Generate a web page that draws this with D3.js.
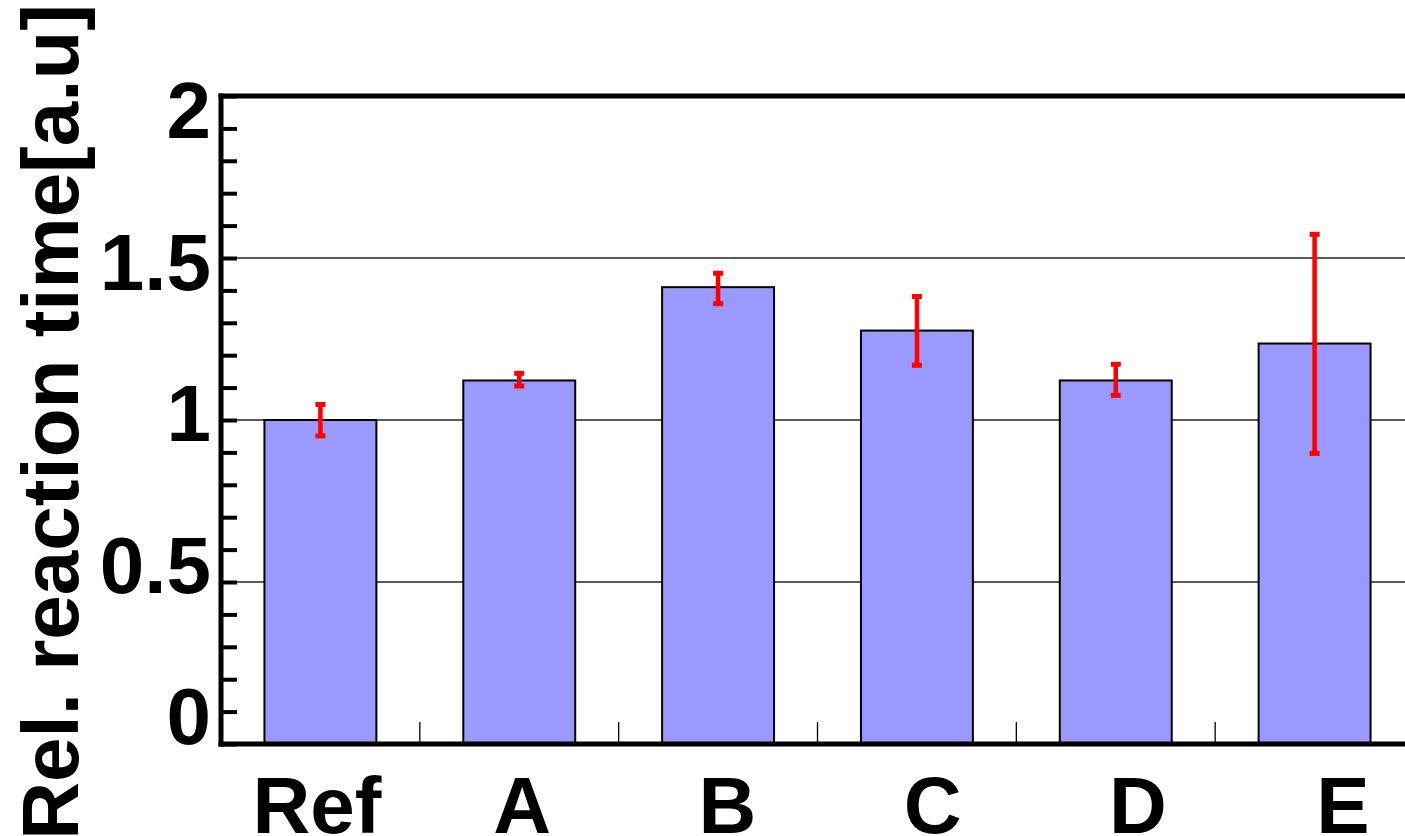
<!DOCTYPE html>
<html>
<head>
<meta charset="utf-8">
<title>Rel. reaction time</title>
<script src="https://d3js.org/d3.v7.min.js"></script>
<style>
  body { margin: 0; background: #fff; }
  text { font-family: "Liberation Sans", Arial, sans-serif; font-weight: bold; fill: #000; }
  .grid { stroke: #222; stroke-width: 1.3; }
  .bar { fill: #9999ff; stroke: #000; stroke-width: 2; }
  .err { stroke: #ff0000; stroke-width: 4.5; }
  .cap { fill: #ff0000; }
</style>
</head>
<body>
<div id="chart"></div>
<script>
// data
var categories = ["Ref", "A", "B", "C", "D", "E"];
var values     = [1.0, 1.122, 1.41, 1.276, 1.122, 1.236];
var errLow     = [0.951, 1.105, 1.359, 1.169, 1.076, 0.897];
var errHigh    = [1.048, 1.144, 1.453, 1.381, 1.172, 1.573];
var yTickLabels = [0, 0.5, 1, 1.5, 2];
var gridValues  = [0.5, 1, 1.5];

var W = 1405, H = 836;
var plotLeft = 221, plotRight = 1414, plotTop = 96, plotBottom = 744;

var svg = d3.select("#chart").append("svg")
    .attr("width", W)
    .attr("height", H);

var x = d3.scaleBand()
    .domain(categories)
    .range([plotLeft, plotRight])
    .paddingInner(0.437)
    .paddingOuter(0.437 / 2);

var y = d3.scaleLinear()
    .domain([0, 2])
    .range([plotBottom, plotTop]);

// the tick labels in the original sit on their own, slightly different spacing
var xLabel = d3.scalePoint()
    .domain(categories)
    .range([317, 1343]);
var yLabel = d3.scaleLinear()
    .domain([0, 2])
    .range([715, 109]);

// gridlines
svg.selectAll("line.grid")
  .data(gridValues)
  .enter().append("line")
    .attr("class", "grid")
    .attr("x1", plotLeft).attr("x2", W)
    .attr("y1", function(d) { return y(d); })
    .attr("y2", function(d) { return y(d); });

// minor ticks on the x axis, between categories
var step = x.step();
svg.selectAll("line.xminor")
  .data(categories.slice(1))
  .enter().append("line")
    .attr("class", "xminor")
    .attr("x1", function(d) { return x(d) - x.paddingInner() * step / 2; })
    .attr("x2", function(d) { return x(d) - x.paddingInner() * step / 2; })
    .attr("y1", plotBottom)
    .attr("y2", plotBottom - 22)
    .attr("stroke", "#000")
    .attr("stroke-width", 1.3);

// bars
svg.selectAll("rect.bar")
  .data(values)
  .enter().append("rect")
    .attr("class", "bar")
    .attr("x", function(d, i) { return x(categories[i]); })
    .attr("width", x.bandwidth())
    .attr("y", function(d) { return y(d); })
    .attr("height", function(d) { return y(0) - y(d); });

// error bars
var cx = function(i) { return x(categories[i]) + x.bandwidth() / 2; };
svg.selectAll("line.err")
  .data(values)
  .enter().append("line")
    .attr("class", "err")
    .attr("x1", function(d, i) { return cx(i); })
    .attr("x2", function(d, i) { return cx(i); })
    .attr("y1", function(d, i) { return y(errLow[i]); })
    .attr("y2", function(d, i) { return y(errHigh[i]); });

var caps = [];
values.forEach(function(d, i) {
  caps.push({ i: i, v: errLow[i] });
  caps.push({ i: i, v: errHigh[i] });
});
svg.selectAll("rect.cap")
  .data(caps)
  .enter().append("rect")
    .attr("class", "cap")
    .attr("x", function(d) { return cx(d.i) - 5; })
    .attr("y", function(d) { return y(d.v) - 2.5; })
    .attr("width", 10)
    .attr("height", 5);

// y axis with ticks every 0.1
var yAxis = d3.axisLeft(y)
    .tickValues(d3.range(0, 21).map(function(k) { return k / 10; }))
    .tickSize(-16)
    .tickFormat("");
var gy = svg.append("g")
    .attr("transform", "translate(" + plotLeft + ",0)")
    .call(yAxis);
gy.select(".domain").remove();
gy.selectAll(".tick line").attr("stroke", "#000").attr("stroke-width", 4);

svg.selectAll("text.ylab")
  .data(yTickLabels)
  .enter().append("text")
    .attr("class", "ylab")
    .attr("x", 211)
    .attr("y", function(d) { return yLabel(d) + 29; })
    .attr("text-anchor", "end")
    .style("font-size", "80px")
    .text(function(d) { return d; });

// frame lines: left axis, bottom axis, top
svg.append("line")
    .attr("x1", plotLeft).attr("x2", plotLeft)
    .attr("y1", plotTop - 2.5).attr("y2", plotBottom + 2.5)
    .attr("stroke", "#000").attr("stroke-width", 5);
svg.append("line")
    .attr("x1", plotLeft - 2.5).attr("x2", W)
    .attr("y1", plotBottom).attr("y2", plotBottom)
    .attr("stroke", "#000").attr("stroke-width", 5);
svg.append("line")
    .attr("x1", plotLeft - 2.5).attr("x2", W)
    .attr("y1", plotTop).attr("y2", plotTop)
    .attr("stroke", "#000").attr("stroke-width", 5);

// x labels
svg.selectAll("text.xlab")
  .data(categories)
  .enter().append("text")
    .attr("class", "xlab")
    .attr("x", function(d) { return xLabel(d); })
    .attr("y", 833)
    .attr("text-anchor", "middle")
    .style("font-size", "80px")
    .text(function(d) { return d; });

// y axis title
svg.append("text")
    .attr("transform", "translate(78,4) rotate(-90)")
    .attr("text-anchor", "end")
    .style("font-size", "80px")
    .text("Rel. reaction time[a.u]");
</script>
</body>
</html>
